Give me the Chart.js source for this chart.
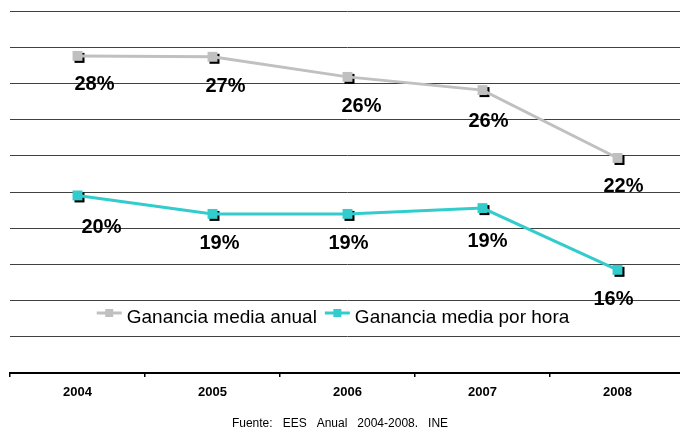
<!DOCTYPE html>
<html>
<head>
<meta charset="utf-8">
<script src="https://cdn.jsdelivr.net/npm/chart.js@4.4.1/dist/chart.umd.min.js"></script>
<style>
  html, body { margin: 0; padding: 0; background: #fff; overflow: hidden; }
  /* the plot runs a little past the right edge of the frame, as in the original */
  #wrap { width: 692px; height: 432px; }
</style>
</head>
<body>
<div id="wrap"><canvas id="chart"></canvas></div>
<script>
// values (percent)
const years = ["2004", "2005", "2006", "2007", "2008"];
const anual = [27.52, 27.47, 26.36, 25.63, 21.88];
const hora = [19.81, 18.79, 18.79, 19.11, 15.70];
const anualLabels = ["28%", "27%", "26%", "26%", "22%"];
const horaLabels = ["20%", "19%", "19%", "19%", "16%"];
const seriesNames = ["Ganancia media anual", "Ganancia media por hora"];
const source = "Fuente:   EES   Anual   2004-2008.   INE";

const FONT = '"Liberation Sans", Arial, sans-serif';
const GRAY = '#c0c0c0';
const TEAL = '#33cccc';

// where each value label sits relative to its point (dx, dy)
const labelShift = [
    [[17, 29], [13, 29.5], [14, 29.5], [6, 31], [6, 29]],
    [[24, 32.5], [7, 29.5], [1, 29.5], [5, 33.5], [-4, 30]]
];

// black drop shadow behind the square markers
const markerShadow = {
    id: 'markerShadow',
    beforeDatasetsDraw(chart) {
        const ctx = chart.ctx;
        ctx.save();
        ctx.fillStyle = '#000';
        chart.data.datasets.forEach((ds, i) => {
            chart.getDatasetMeta(i).data.forEach((pt) => {
                ctx.fillRect(pt.x - 5 + 2, pt.y - 5 + 2, 10, 10);
            });
        });
        ctx.restore();
    }
};

const valueLabels = {
    id: 'valueLabels',
    afterDatasetsDraw(chart) {
        const ctx = chart.ctx;
        ctx.save();
        ctx.font = 'bold 20px ' + FONT;
        ctx.fillStyle = '#000';
        ctx.textAlign = 'center';
        ctx.textBaseline = 'middle';
        chart.data.datasets.forEach((ds, i) => {
            chart.getDatasetMeta(i).data.forEach((pt, j) => {
                const s = labelShift[i][j];
                ctx.fillText(ds.pctLabels[j], pt.x + s[0], pt.y + s[1]);
            });
        });
        ctx.restore();
    }
};

const insideLegend = {
    id: 'insideLegend',
    afterDraw(chart) {
        const ctx = chart.ctx;
        const sets = chart.data.datasets;
        ctx.save();
        ctx.font = '19px ' + FONT;
        const lineLen = 25, gapText = 5, gapItem = 8;
        const widths = sets.map(d => ctx.measureText(d.label).width);
        let total = gapItem * (sets.length - 1);
        widths.forEach(w => total += lineLen + gapText + w);
        let x = 333 - total / 2;
        const y = 313;
        sets.forEach((d, i) => {
            ctx.strokeStyle = d.borderColor;
            ctx.lineWidth = 3;
            ctx.beginPath();
            ctx.moveTo(x, y);
            ctx.lineTo(x + lineLen, y);
            ctx.stroke();
            ctx.fillStyle = d.borderColor;
            ctx.fillRect(x + lineLen / 2 - 4, y - 4, 8, 8);
            ctx.fillStyle = '#000';
            ctx.textBaseline = 'alphabetic';
            ctx.fillText(d.label, x + lineLen + gapText, y + 10);
            x += lineLen + gapText + widths[i] + gapItem;
        });
        // source note under the axis
        ctx.font = '12px ' + FONT;
        ctx.textAlign = 'center';
        ctx.fillText(source, 340, 427);
        ctx.restore();
    }
};

new Chart(document.getElementById('chart'), {
    type: 'line',
    data: {
        labels: years,
        datasets: [{
            label: seriesNames[0],
            data: anual,
            pctLabels: anualLabels,
            borderColor: GRAY,
            backgroundColor: GRAY,
            borderWidth: 3,
            pointStyle: 'rect',
            pointRadius: 7,
            pointBorderWidth: 0,
            tension: 0
        }, {
            label: seriesNames[1],
            data: hora,
            pctLabels: horaLabels,
            borderColor: TEAL,
            backgroundColor: TEAL,
            borderWidth: 3,
            pointStyle: 'rect',
            pointRadius: 7,
            pointBorderWidth: 0,
            tension: 0
        }]
    },
    options: {
        animation: false,
        responsive: true,
        maintainAspectRatio: false,
        layout: { padding: { left: 10, right: 0, top: 11, bottom: 23.4 } },
        plugins: {
            legend: { display: false },
            tooltip: { enabled: false }
        },
        scales: {
            x: {
                offset: true,
                grid: { offset: true, drawOnChartArea: false, tickLength: 4, color: '#000', lineWidth: 1.5 },
                border: { color: '#000', width: 2 },
                ticks: { color: '#000', padding: 8, font: { family: FONT, size: 13, weight: 'bold' } }
            },
            y: {
                min: 10,
                max: 30,
                ticks: { stepSize: 2, display: false },
                grid: { color: '#404040', lineWidth: 1, drawTicks: false },
                border: { display: false }
            }
        }
    },
    plugins: [markerShadow, valueLabels, insideLegend]
});
</script>
</body>
</html>
